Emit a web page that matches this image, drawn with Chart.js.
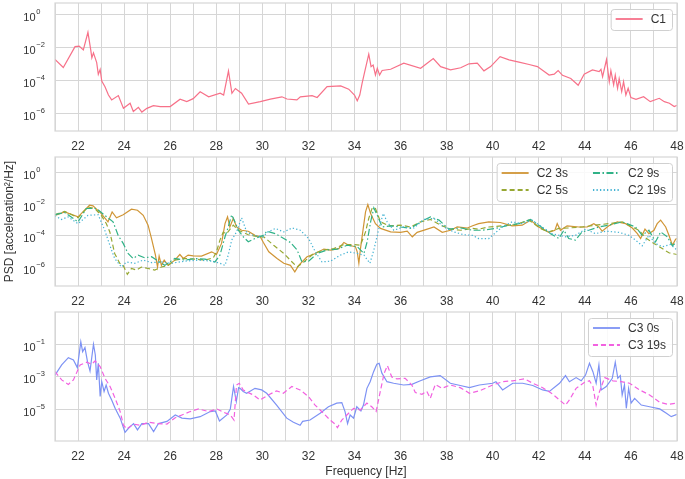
<!DOCTYPE html>
<html>
<head>
<meta charset="utf-8">
<script src="https://cdn.jsdelivr.net/npm/chart.js@4.4.1/dist/chart.umd.min.js"></script>
<style>
  body { margin: 0; background: #fff; }
  #wrap { position: relative; width: 685px; height: 479px; }
  canvas { position: absolute; left: 0; }
</style>
</head>
<body>
<div id="wrap">
  <canvas id="p1" width="685" height="155" style="top:0px"></canvas>
  <canvas id="p2" width="685" height="155" style="top:155px"></canvas>
  <canvas id="p3" width="685" height="169" style="top:310px"></canvas>
</div>
<script>
// [frequency Hz, PSD]
const c1 = [
  [21.0, 2.0e-3], [21.36, 6.5e-4], [21.87, 1.2e-2], [22.05, 1.3e-2], [22.23, 7.6e-3], [22.43, 8.9e-2], [22.55, 7.9e-3], [22.6, 2.5e-3], [22.67, 5.0e-3], [22.81, 1.3e-3],
  [22.88, 2.5e-4], [22.96, 5.0e-4], [23.03, 1.0e-4], [23.17, 4.5e-5], [23.32, 1.4e-5], [23.46, 7.1e-6], [23.75, 1.3e-5], [23.97, 2.2e-6], [24.26, 4.5e-6], [24.4, 1.4e-6],
  [24.62, 2.5e-6], [24.77, 1.3e-6], [24.99, 2.2e-6], [25.27, 3.2e-6], [25.57, 2.8e-6], [26.0, 2.8e-6], [26.43, 7.9e-6], [26.72, 5.6e-6], [27.0, 8.5e-6], [27.3, 2.2e-5],
  [27.67, 1.1e-5], [28.17, 1.8e-5], [28.32, 1.4e-5], [28.53, 4.0e-4], [28.68, 1.8e-5], [28.83, 3.5e-5], [29.1, 1.8e-5], [29.4, 4.0e-6], [29.91, 5.6e-6], [30.35, 7.9e-6],
  [30.85, 1.1e-5], [31.07, 8.1e-6], [31.5, 7.1e-6], [31.65, 1.1e-5], [32.16, 1.3e-5], [32.38, 1.0e-5], [32.81, 4.5e-5], [33.4, 5.0e-5], [33.75, 3.2e-5], [34.0, 1.4e-5],
  [34.12, 6.3e-6], [34.23, 1.4e-5], [34.33, 7.2e-5], [34.43, 3.0e-4], [34.62, 4.2e-3], [34.72, 7.4e-4], [34.81, 9.3e-4], [34.91, 2.3e-4], [34.99, 5.9e-4], [35.09, 2.3e-4],
  [35.2, 4.3e-4], [35.57, 5.1e-4], [36.14, 1.2e-3], [36.87, 5.9e-4], [37.42, 2.3e-3], [37.74, 7.4e-4], [38.17, 4.7e-4], [38.61, 6.3e-4], [38.97, 1.1e-3], [39.33, 1.2e-3],
  [39.62, 4.1e-4], [39.91, 7.4e-4], [40.32, 3.0e-3], [40.71, 1.9e-3], [41.14, 1.4e-3], [41.58, 1.0e-3], [41.94, 7.4e-4], [42.45, 2.3e-4], [42.67, 2.6e-4], [42.84, 4.3e-4],
  [43.03, 2.2e-4], [43.39, 1.4e-4], [43.71, 5.5e-5], [43.97, 2.6e-4], [44.33, 4.7e-4], [44.62, 3.7e-4], [44.7, 5.1e-4], [44.77, 1.8e-4], [44.94, 2.0e-3], [45.06, 9.1e-5],
  [45.13, 4.3e-4], [45.25, 5.8e-5], [45.32, 2.3e-4], [45.42, 3.6e-5], [45.49, 1.4e-4], [45.6, 2.3e-5], [45.68, 9.1e-5], [45.78, 1.4e-5], [45.88, 3.6e-5], [46.0, 9.8e-6],
  [46.22, 7.8e-6], [46.55, 1.1e-5], [46.84, 5.6e-6], [47.23, 8.9e-6], [47.45, 5.6e-6], [47.67, 4.5e-6], [47.88, 2.8e-6], [48.0, 3.3e-6]
];

const c2s3 = [
  [21.0, 2.0e-3], [21.42, 3.3e-3], [22.0, 1.6e-3], [22.5, 8.7e-3], [22.65, 7.9e-3], [23.01, 2.6e-3], [23.3, 7.8e-4], [23.48, 3.3e-3], [23.67, 1.4e-3], [23.96, 2.2e-3],
  [24.32, 4.9e-3], [24.58, 4.2e-3], [24.83, 2.0e-3], [25.04, 4.8e-4], [25.19, 6.9e-5], [25.36, 6.2e-6], [25.45, 1.1e-6], [25.52, 5.4e-6], [25.62, 1.4e-6], [25.74, 3.0e-6],
  [25.91, 1.4e-6], [26.2, 3.0e-6], [26.42, 6.8e-6], [26.57, 3.8e-6], [26.78, 6.2e-6], [27.0, 5.6e-6], [27.36, 5.4e-6], [27.8, 1.0e-5], [28.01, 6.8e-6], [28.23, 3.4e-5],
  [28.38, 6.0e-4], [28.49, 1.6e-3], [28.59, 3.7e-4], [28.74, 1.3e-3], [28.88, 3.7e-4], [29.1, 2.3e-4], [29.39, 2.0e-4], [29.68, 1.1e-4], [29.91, 8.9e-5], [30.04, 4.0e-5],
  [30.28, 1.0e-5], [30.64, 3.8e-6], [30.93, 1.9e-6], [31.22, 1.4e-6], [31.41, 5.5e-7], [31.58, 1.4e-6], [31.94, 4.9e-6], [32.3, 7.9e-6], [32.67, 1.5e-5], [32.96, 1.3e-5],
  [33.32, 1.6e-5], [33.54, 3.9e-5], [33.75, 2.6e-5], [34.04, 2.1e-5], [34.12, 1.0e-5], [34.19, 1.9e-6], [34.26, 1.6e-5], [34.38, 3.0e-4], [34.48, 3.3e-3], [34.58, 9.5e-3],
  [34.7, 2.6e-3], [34.91, 6.0e-4], [35.13, 3.0e-4], [35.57, 1.8e-4], [36.0, 1.7e-4], [36.29, 2.0e-4], [36.51, 8.9e-5], [36.72, 1.7e-4], [37.16, 2.7e-4], [37.45, 3.7e-4],
  [37.81, 1.7e-4], [38.17, 2.3e-4], [38.46, 3.7e-4], [38.9, 3.2e-4], [39.13, 4.4e-4], [39.39, 6.0e-4], [39.83, 7.8e-4], [40.33, 7.1e-4], [40.84, 4.4e-4], [41.28, 4.8e-4],
  [41.64, 1.0e-3], [42.0, 3.7e-4], [42.43, 1.7e-4], [42.7, 2.3e-4], [42.8, 6.0e-4], [42.94, 2.3e-4], [43.23, 4.4e-4], [43.74, 3.7e-4], [44.1, 3.7e-4], [44.39, 6.0e-4],
  [44.61, 3.7e-4], [44.75, 2.0e-4], [45.04, 4.4e-4], [45.41, 7.8e-4], [45.77, 6.0e-4], [46.06, 3.2e-4], [46.28, 1.4e-4], [46.42, 6.9e-5], [46.61, 2.7e-4], [46.78, 1.4e-4],
  [47.0, 2.3e-4], [47.14, 6.0e-4], [47.29, 1.0e-3], [47.51, 3.7e-4], [47.65, 1.1e-4], [47.8, 2.6e-5], [47.94, 6.3e-5], [48.0, 6.9e-5]
];

const c2s5 = [
  [21.0, 2.2e-3], [21.42, 3.6e-3], [22.0, 1.4e-3], [22.43, 6.8e-3], [22.72, 5.4e-3], [23.01, 2.0e-3], [23.23, 6.0e-4], [23.38, 1.8e-4], [23.59, 7.9e-6], [23.81, 1.9e-6],
  [23.96, 1.4e-6], [24.14, 3.8e-7], [24.32, 8.9e-7], [24.54, 7.1e-7], [24.75, 1.1e-6], [25.04, 8.9e-7], [25.33, 7.1e-7], [25.62, 1.1e-6], [25.91, 1.4e-6], [26.2, 3.0e-6],
  [26.64, 3.8e-6], [27.07, 3.5e-6], [27.51, 3.0e-6], [27.87, 4.2e-6], [28.01, 1.0e-5], [28.16, 5.5e-5], [28.3, 1.7e-4], [28.45, 1.4e-4], [28.74, 4.8e-4], [28.96, 2.3e-4],
  [29.39, 1.2e-4], [29.83, 8.9e-5], [30.06, 8.9e-5], [30.49, 2.6e-5], [30.93, 7.9e-6], [31.29, 2.3e-6], [31.51, 1.1e-6], [31.8, 2.3e-6], [32.23, 7.9e-6], [32.67, 1.3e-5],
  [33.1, 1.6e-5], [33.54, 2.9e-5], [33.97, 2.9e-5], [34.26, 2.6e-5], [34.48, 1.8e-4], [34.62, 1.3e-3], [34.77, 5.9e-3], [34.91, 5.4e-3], [35.13, 7.8e-4], [35.49, 4.4e-4],
  [36.0, 4.8e-4], [36.43, 3.7e-4], [36.87, 7.8e-4], [37.3, 1.1e-3], [37.74, 4.8e-4], [38.17, 2.7e-4], [38.61, 2.3e-4], [39.12, 3.0e-4], [39.39, 2.7e-4], [39.83, 3.7e-4],
  [40.41, 4.4e-4], [40.99, 5.2e-4], [41.57, 1.0e-3], [42.07, 3.0e-4], [42.43, 1.8e-4], [42.87, 3.0e-4], [43.3, 3.2e-4], [43.88, 3.7e-4], [44.46, 4.8e-4], [45.04, 6.0e-4],
  [45.62, 7.8e-4], [46.06, 3.7e-4], [46.35, 2.3e-4], [46.64, 7.6e-5], [47.0, 3.4e-5], [47.36, 1.6e-5], [47.65, 8.7e-6], [48.0, 6.8e-6]
];

const c2s9 = [
  [21.0, 2.2e-3], [21.42, 3.0e-3], [22.0, 7.8e-4], [22.36, 5.4e-3], [22.8, 5.4e-3], [23.16, 2.0e-3], [23.52, 7.8e-4], [23.74, 1.1e-4], [23.96, 3.4e-5], [24.17, 7.9e-6],
  [24.39, 3.8e-6], [24.61, 6.2e-6], [24.9, 4.2e-6], [25.19, 4.9e-6], [25.48, 2.6e-6], [25.77, 1.4e-6], [26.2, 3.8e-6], [26.64, 3.0e-6], [27.07, 3.8e-6], [27.51, 3.5e-6],
  [27.94, 2.3e-6], [28.16, 6.2e-6], [28.38, 8.9e-5], [28.52, 3.7e-4], [28.67, 2.2e-3], [28.81, 7.8e-4], [28.96, 2.3e-4], [29.17, 8.9e-5], [29.39, 4.3e-5], [29.68, 6.9e-5],
  [30.04, 1.1e-4], [30.2, 2.0e-4], [30.57, 1.4e-4], [30.93, 6.9e-5], [31.22, 3.9e-5], [31.51, 1.3e-5], [31.72, 2.3e-6], [32.01, 2.6e-6], [32.38, 7.9e-6], [32.81, 1.3e-5],
  [33.25, 1.5e-5], [33.68, 2.6e-5], [34.12, 2.1e-5], [34.41, 7.9e-6], [34.55, 4.3e-5], [34.7, 7.8e-4], [34.84, 5.9e-3], [34.99, 2.0e-3], [35.2, 3.7e-4], [35.57, 4.4e-4],
  [36.0, 3.7e-4], [36.43, 3.0e-4], [36.87, 7.8e-4], [37.3, 1.6e-3], [37.67, 1.0e-3], [38.1, 2.7e-4], [38.61, 3.2e-4], [39.12, 2.3e-4], [39.54, 2.3e-4], [40.12, 3.0e-4],
  [40.7, 4.8e-4], [41.13, 6.0e-4], [41.64, 1.1e-3], [42.0, 4.8e-4], [42.51, 1.4e-4], [42.87, 6.9e-5], [43.09, 2.3e-4], [43.3, 6.9e-5], [43.59, 5.5e-5], [43.88, 1.8e-4],
  [44.17, 2.3e-4], [44.61, 3.7e-4], [45.04, 4.8e-4], [45.62, 7.8e-4], [46.2, 3.7e-4], [46.49, 1.1e-4], [46.78, 2.3e-4], [47.07, 4.3e-5], [47.29, 1.8e-4], [47.58, 8.9e-5],
  [47.8, 2.4e-5], [48.0, 4.3e-5]
];

const c2s19 = [
  [21.0, 1.9e-3], [21.28, 1.1e-3], [21.57, 1.6e-3], [22.0, 6.0e-4], [22.43, 2.0e-3], [22.87, 2.2e-3], [23.16, 2.3e-4], [23.38, 2.6e-5], [23.59, 3.8e-6], [23.88, 1.1e-6],
  [24.1, 2.3e-6], [24.46, 1.9e-6], [24.83, 3.0e-6], [25.19, 2.1e-6], [25.62, 2.3e-6], [26.06, 1.9e-6], [26.64, 2.6e-6], [27.22, 3.0e-6], [27.8, 2.6e-6], [28.16, 1.9e-6],
  [28.38, 1.4e-6], [28.52, 6.2e-6], [28.67, 5.5e-5], [28.88, 1.8e-4], [29.1, 1.4e-3], [29.32, 1.8e-4], [29.61, 1.1e-4], [30.04, 8.9e-5], [30.2, 1.7e-4], [30.57, 3.0e-4],
  [30.93, 1.8e-4], [31.29, 3.2e-4], [31.65, 2.3e-4], [32.01, 6.9e-5], [32.3, 1.0e-5], [32.59, 2.3e-6], [32.96, 2.6e-6], [33.39, 6.2e-6], [33.75, 1.0e-5], [34.12, 7.9e-6],
  [34.41, 6.2e-6], [34.67, 1.9e-6], [34.84, 1.3e-5], [35.06, 3.0e-4], [35.25, 2.6e-3], [35.42, 7.8e-4], [35.71, 2.3e-4], [36.14, 3.7e-4], [36.58, 3.2e-4], [37.01, 1.1e-3],
  [37.45, 1.3e-3], [37.88, 3.7e-4], [38.32, 1.8e-4], [38.75, 1.2e-4], [39.12, 1.1e-4], [39.39, 6.9e-5], [39.83, 6.9e-5], [40.41, 3.7e-4], [40.84, 7.8e-4], [41.28, 6.0e-4],
  [41.71, 1.0e-3], [42.14, 3.7e-4], [42.58, 1.4e-4], [43.16, 8.9e-5], [43.59, 1.1e-4], [44.03, 2.7e-4], [44.46, 1.4e-4], [44.9, 2.0e-4], [45.48, 1.7e-4], [45.91, 1.1e-4],
  [46.2, 5.5e-5], [46.49, 2.4e-5], [46.78, 1.1e-4], [47.07, 3.4e-5], [47.36, 2.1e-5], [47.72, 2.9e-5], [48.0, 1.3e-5]
];

const c3s0 = [
  [21.0, 1.3e-3], [21.29, 5.4e-3], [21.58, 1.5e-2], [21.8, 1.1e-2], [21.97, 3.7e-3], [22.12, 1.4e-1], [22.2, 3.5e-2], [22.3, 6.3e-2], [22.41, 8.7e-3], [22.52, 2.3e-3],
  [22.67, 1.0e-1], [22.75, 2.2e-2], [22.81, 6.6e-4], [22.88, 6.9e-3], [22.96, 6.3e-5], [23.03, 5.1e-4], [23.13, 1.3e-4], [23.22, 3.2e-4], [23.32, 1.0e-4], [23.46, 3.9e-5],
  [23.61, 1.2e-5], [23.83, 3.0e-6], [24.04, 4.1e-7], [24.19, 7.2e-7], [24.41, 1.4e-6], [24.58, 5.8e-7], [24.77, 1.4e-6], [25.06, 1.4e-6], [25.28, 4.5e-7], [25.49, 1.4e-6],
  [25.86, 1.9e-6], [26.22, 4.7e-6], [26.51, 3.0e-6], [26.87, 2.7e-6], [27.3, 3.7e-6], [27.74, 7.6e-6], [27.96, 8.3e-6], [28.14, 2.0e-6], [28.46, 4.7e-6], [28.61, 1.1e-5],
  [28.75, 2.6e-4], [28.87, 3.1e-5], [28.97, 2.2e-4], [29.03, 2.0e-4], [29.17, 1.3e-4], [29.32, 1.0e-4], [29.68, 2.0e-4], [29.97, 1.6e-4], [30.19, 1.0e-4], [30.62, 1.9e-5],
  [31.06, 3.0e-6], [31.35, 1.7e-6], [31.64, 1.1e-6], [31.75, 1.9e-6], [32.07, 2.3e-6], [32.51, 6.0e-6], [32.87, 1.5e-5], [33.23, 2.5e-5], [33.45, 2.7e-5], [33.59, 7.6e-6],
  [33.7, 1.4e-6], [33.81, 4.7e-6], [33.96, 3.0e-6], [34.1, 1.5e-5], [34.28, 8.3e-6], [34.39, 1.9e-5], [34.54, 2.0e-4], [34.68, 5.1e-4], [34.83, 2.1e-3], [34.97, 6.0e-3],
  [35.07, 6.9e-3], [35.19, 1.7e-3], [35.41, 5.1e-4], [35.7, 4.1e-4], [36.13, 3.2e-4], [36.49, 3.5e-4], [36.86, 5.8e-4], [37.29, 1.0e-3], [37.72, 1.2e-3], [38.16, 4.1e-4],
  [38.59, 3.0e-4], [38.99, 2.2e-4], [39.42, 3.2e-4], [40.0, 4.1e-4], [40.14, 5.1e-4], [40.43, 1.6e-4], [40.87, 4.1e-4], [41.3, 4.1e-4], [41.74, 3.0e-4], [42.17, 1.6e-4],
  [42.46, 1.3e-4], [42.9, 4.1e-4], [43.16, 1.2e-3], [43.33, 5.1e-4], [43.62, 9.1e-4], [43.84, 5.8e-4], [44.03, 1.3e-3], [44.2, 6.9e-3], [44.35, 2.1e-3], [44.49, 4.1e-4],
  [44.61, 5.4e-3], [44.71, 1.6e-4], [44.93, 2.6e-4], [45.19, 8.3e-4], [45.32, 7.9e-3], [45.43, 8.3e-4], [45.54, 1.2e-3], [45.62, 7.9e-5], [45.72, 3.2e-4], [45.8, 1.2e-5],
  [45.9, 2.0e-4], [46.01, 2.5e-5], [46.16, 4.9e-5], [46.45, 1.9e-5], [46.81, 1.5e-5], [47.25, 1.1e-5], [47.54, 6.0e-6], [47.75, 3.7e-6], [48.0, 5.1e-6]
];

const c3s19 = [
  [21.0, 2.1e-3], [21.29, 6.6e-4], [21.58, 3.5e-4], [21.8, 6.6e-4], [22.09, 5.4e-3], [22.38, 7.9e-3], [22.59, 6.0e-3], [22.74, 9.5e-3], [22.96, 4.3e-3], [23.17, 8.3e-4],
  [23.39, 2.6e-4], [23.61, 4.9e-5], [23.83, 7.6e-6], [23.97, 1.1e-6], [24.12, 6.6e-7], [24.41, 1.3e-6], [24.7, 1.1e-6], [25.06, 1.7e-6], [25.42, 1.4e-6], [25.86, 1.3e-6],
  [26.22, 3.2e-6], [26.51, 4.7e-6], [26.87, 7.6e-6], [27.23, 1.1e-5], [27.67, 7.6e-6], [28.03, 1.1e-5], [28.32, 6.9e-6], [28.61, 4.7e-6], [28.77, 2.3e-6], [28.88, 3.2e-4],
  [29.0, 4.1e-4], [29.17, 1.6e-4], [29.39, 1.1e-4], [29.61, 7.9e-5], [29.9, 3.9e-5], [30.26, 7.9e-5], [30.62, 1.4e-4], [30.91, 1.0e-4], [31.28, 2.6e-4], [31.64, 1.6e-4],
  [32.0, 6.3e-5], [32.29, 1.9e-5], [32.65, 6.0e-6], [32.94, 2.3e-6], [33.16, 1.3e-6], [33.26, 7.9e-7], [33.45, 2.3e-6], [33.67, 4.7e-6], [33.96, 1.2e-5], [34.25, 9.5e-6],
  [34.54, 2.5e-5], [34.75, 1.5e-5], [34.94, 7.6e-6], [35.12, 1.3e-4], [35.29, 1.7e-3], [35.43, 4.9e-3], [35.62, 1.0e-3], [35.84, 7.6e-4], [36.2, 8.3e-4], [36.49, 3.2e-4],
  [36.64, 1.1e-4], [36.93, 8.7e-5], [37.14, 1.3e-4], [37.29, 4.9e-5], [37.51, 3.5e-4], [37.8, 2.0e-4], [38.16, 3.2e-4], [38.59, 2.2e-4], [38.99, 1.0e-4], [39.42, 1.4e-4],
  [40.0, 3.2e-4], [40.43, 5.1e-4], [40.87, 5.8e-4], [41.38, 7.6e-4], [41.74, 4.1e-4], [42.17, 2.2e-4], [42.61, 8.7e-5], [42.9, 3.9e-5], [43.16, 1.9e-5], [43.33, 3.9e-5],
  [43.62, 2.0e-4], [43.99, 4.7e-4], [44.2, 5.8e-4], [44.35, 2.6e-4], [44.49, 1.9e-5], [44.61, 1.0e-4], [44.86, 9.1e-4], [45.22, 5.8e-4], [45.58, 5.1e-4], [45.94, 4.1e-4],
  [46.38, 1.6e-4], [46.81, 7.9e-5], [47.25, 2.8e-5], [47.61, 2.1e-5], [48.0, 2.5e-5]
];

// y tick values per panel
const ticksTop = [1e-6, 1e-4, 1e-2, 1];
const ticksMid = [1e-6, 1e-4, 1e-2, 1];
const ticksBottom = [1e-5, 1e-3, 1e-1];

const textColor = '#333333';
const gridColor = '#d6d6d6';
const fontFamily = '"Liberation Sans", Arial, sans-serif';

function toPoints(pairs) {
  return pairs.map(p => ({ x: p[0], y: p[1] }));
}

function line(label, pairs, color, dash, order) {
  return {
    label: label,
    data: toPoints(pairs),
    borderColor: color,
    borderWidth: 1.2,
    borderDash: dash,
    pointRadius: 0,
    fill: false,
    tension: 0,
    order: order
  };
}

// frame, y tick labels with superscripts, legend in the upper right corner
const decor = {
  id: 'decor',
  afterDatasetsDraw(chart) {
    const ctx = chart.ctx;
    const a = chart.chartArea;
    ctx.save();
    ctx.strokeStyle = gridColor;
    ctx.lineWidth = 1.2;
    ctx.strokeRect(a.left, a.top, a.right - a.left, a.bottom - a.top);
    ctx.restore();
  },
  afterDraw(chart, args, opts) {
    const ctx = chart.ctx;
    const a = chart.chartArea;
    const yScale = chart.scales.y;

    ctx.save();
    ctx.fillStyle = textColor;
    ctx.textBaseline = 'alphabetic';
    yScale.ticks.forEach(t => {
      const py = yScale.getPixelForValue(t.value);
      const exp = Math.round(Math.log10(t.value));
      const bx = a.left - 19.5;
      ctx.font = '11px ' + fontFamily;
      ctx.textAlign = 'right';
      ctx.fillText('10', bx, py + 6.5);
      ctx.font = '7.5px ' + fontFamily;
      ctx.textAlign = 'left';
      ctx.fillText(String(exp).replace('-', '\u2212'), bx + 0.8, py - 0.5);
    });

    // legend
    const items = chart.data.datasets;
    const cols = opts.cols || 1;
    const rows = Math.ceil(items.length / cols);
    const lineLen = 27, gap = 8, colGap = 25, padL = 5, padR = 6, rowH = 17;
    ctx.font = '12px ' + fontFamily;
    const colW = [];
    for (let c = 0; c < cols; c++) {
      let w = 0;
      for (let r = 0; r < rows; r++) {
        const it = items[c * rows + r];
        if (it) w = Math.max(w, ctx.measureText(it.label).width);
      }
      colW.push(lineLen + gap + w);
    }
    const width = padL + colW.reduce((s, v) => s + v, 0) + colGap * (cols - 1) + padR;
    const height = 10 + rowH * (rows - 1) + 11;
    const x0 = a.right - 5 - width;
    const y0 = a.top + 6;
    ctx.beginPath();
    ctx.roundRect(x0 + 0.5, y0 + 0.5, width, height, 3);
    ctx.fillStyle = 'rgba(255,255,255,0.85)';
    ctx.fill();
    ctx.strokeStyle = '#d0d0d0';
    ctx.lineWidth = 1;
    ctx.stroke();

    let cx = x0 + padL;
    for (let c = 0; c < cols; c++) {
      for (let r = 0; r < rows; r++) {
        const it = items[c * rows + r];
        if (!it) continue;
        const y = y0 + 10 + r * rowH;
        ctx.beginPath();
        ctx.setLineDash(it.borderDash || []);
        ctx.strokeStyle = it.borderColor;
        ctx.lineWidth = 1.8;
        ctx.moveTo(cx, y);
        ctx.lineTo(cx + lineLen, y);
        ctx.stroke();
        ctx.setLineDash([]);
        ctx.fillStyle = textColor;
        ctx.textAlign = 'left';
        ctx.textBaseline = 'middle';
        ctx.fillText(it.label, cx + lineLen + gap, y + 0.5);
      }
      cx += colW[c] + colGap;
    }
    ctx.restore();
  }
};

function makePanel(id, datasets, cfg) {
  return new Chart(document.getElementById(id), {
    type: 'line',
    data: { datasets: datasets },
    plugins: [decor],
    options: {
      responsive: false,
      animation: false,
      devicePixelRatio: 1,
      layout: { padding: { left: 0, right: 8, top: cfg.top, bottom: 0 } },
      plugins: {
        legend: { display: false },
        tooltip: { enabled: false },
        decor: { cols: cfg.cols }
      },
      scales: {
        x: {
          type: 'linear',
          min: 21,
          max: 48,
          ticks: {
            stepSize: 1,
            autoSkip: false,
            maxRotation: 0,
            padding: cfg.xPad,
            color: textColor,
            font: { family: fontFamily, size: 12 },
            callback: v => (v % 2 === 0 ? String(v) : '')
          },
          grid: { color: gridColor, lineWidth: 1, drawTicks: false },
          border: { display: false },
          title: {
            display: cfg.xTitle,
            text: 'Frequency [Hz]',
            color: textColor,
            font: { family: fontFamily, size: 12 },
            padding: { top: 0, bottom: 0 }
          },
          afterFit: s => {
            s.height = cfg.xHeight;
            s.paddingLeft = 0;
            s.paddingRight = 0;
          }
        },
        y: {
          type: 'logarithmic',
          min: cfg.yMin,
          max: cfg.yMax,
          bounds: 'data',
          afterBuildTicks: s => { s.ticks = cfg.yTicks.map(v => ({ value: v })); },
          ticks: { display: false },
          grid: { color: gridColor, lineWidth: 1, drawTicks: false },
          border: { display: false },
          title: {
            display: cfg.yTitle,
            text: 'PSD [acceleration\u00B2/Hz]',
            color: textColor,
            font: { family: fontFamily, size: 12 },
            padding: { top: 2, bottom: 0 }
          },
          afterFit: s => { s.width = 55; }
        }
      }
    }
  });
}

makePanel('p1', [
  line('C1', c1, '#f77189', [], 1)
], { top: 3, xHeight: 24, xPad: 8, xTitle: false, yTitle: false, yMin: 9.3e-8, yMax: 5.3, yTicks: ticksTop, cols: 1 });

makePanel('p2', [
  line('C2 3s', c2s3, '#d09535', [], 4),
  line('C2 5s', c2s5, '#97a833', [5, 3], 3),
  line('C2 9s', c2s9, '#30b287', [7, 2.5, 1.5, 2.5], 2),
  line('C2 19s', c2s19, '#45b3d3', [1.3, 2.2], 1)
], { top: 2, xHeight: 24, xPad: 8, xTitle: false, yTitle: true, yMin: 7.0e-8, yMax: 9.6, yTicks: ticksMid, cols: 2 });

makePanel('p3', [
  line('C3 0s', c3s0, '#7d92f4', [], 2),
  line('C3 19s', c3s19, '#f261e0', [5, 3], 1)
], { top: 2, xHeight: 38, xPad: 8, xTitle: true, yTitle: false, yMin: 1.2e-7, yMax: 9.4, yTicks: ticksBottom, cols: 1 });
</script>
</body>
</html>
